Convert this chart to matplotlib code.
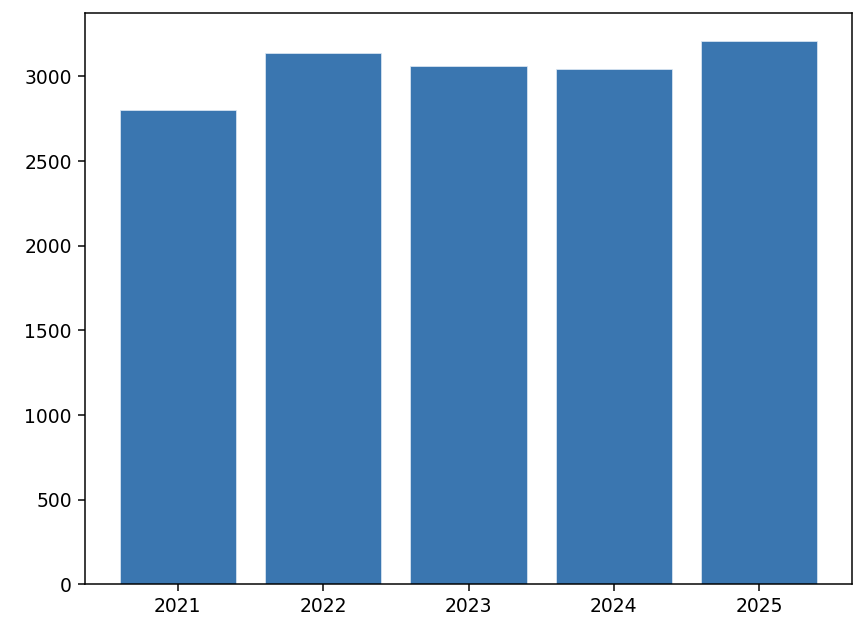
import matplotlib
matplotlib.use("Agg")
import matplotlib.pyplot as plt

years = ["2021", "2022", "2023", "2024", "2025"]
values = [2800, 3140, 3063, 3045, 3212]

fig = plt.figure(figsize=(866 / 135, 636 / 135), dpi=135)
ax = fig.add_axes([0.098, 0.0812, 0.886, 0.8978])
ax.bar(years, values, color="#3a76b0", edgecolor="#dce8f3", linewidth=0.4)
ax.tick_params(labelsize=10)

fig.savefig("out.png", dpi=135)
